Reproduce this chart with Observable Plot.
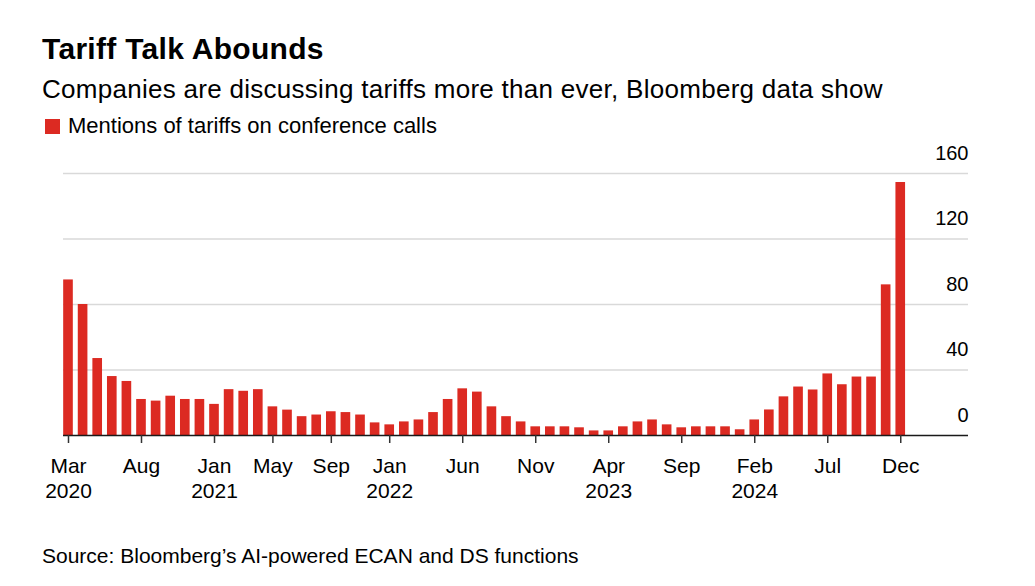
<!DOCTYPE html>
<html>
<head>
<meta charset="utf-8">
<script src="https://cdn.jsdelivr.net/npm/d3@7"></script>
<script src="https://cdn.jsdelivr.net/npm/@observablehq/plot@0.6"></script>
<style>
  html, body { margin: 0; padding: 0; background: #fff; }
  body { font-family: "Liberation Sans", Arial, Helvetica, sans-serif; color: #000; }
  #wrap { position: relative; width: 1035px; height: 586px; overflow: hidden; }
  .t { position: absolute; left: 42px; white-space: nowrap; line-height: 1; }
  #title { top: 34px; font-size: 30px; font-weight: bold; letter-spacing: 0.3px; }
  #subtitle { top: 76px; font-size: 26px; letter-spacing: 0.28px; }
  #legend { top: 115px; font-size: 22px; left: 45px; display: flex; align-items: center; }
  #legend .sw { width: 15px; height: 15px; background: #dc2a22; margin-right: 8px; }
  #source { top: 545px; font-size: 21px; }
  #chart { position: absolute; left: 0; top: 140px; }
</style>
</head>
<body>
<div id="wrap">
  <div class="t" id="title">Tariff Talk Abounds</div>
  <div class="t" id="subtitle">Companies are discussing tariffs more than ever, Bloomberg data show</div>
  <div class="t" id="legend"><span class="sw"></span><span>Mentions of tariffs on conference calls</span></div>
  <div id="chart"></div>
  <div class="t" id="source">Source: Bloomberg’s AI-powered ECAN and DS functions</div>
</div>
<script>
// Months from Mar 2020 to Dec 2024
const months = [
  "2020-03","2020-04","2020-05","2020-06","2020-07","2020-08","2020-09","2020-10","2020-11","2020-12",
  "2021-01","2021-02","2021-03","2021-04","2021-05","2021-06","2021-07","2021-08","2021-09","2021-10","2021-11","2021-12",
  "2022-01","2022-02","2022-03","2022-04","2022-05","2022-06","2022-07","2022-08","2022-09","2022-10","2022-11","2022-12",
  "2023-01","2023-02","2023-03","2023-04","2023-05","2023-06","2023-07","2023-08","2023-09","2023-10","2023-11","2023-12",
  "2024-01","2024-02","2024-03","2024-04","2024-05","2024-06","2024-07","2024-08","2024-09","2024-10","2024-11","2024-12"
];
// Mentions of tariffs on conference calls
const mentions = [
  95, 80, 47, 36, 33, 22, 21, 24, 22, 22,
  19, 28, 27, 28, 17.5, 15.5, 11.5, 12.5, 14.5, 14, 12.5, 7.7,
  6.5, 8.3, 9.5, 14, 22, 28.5, 26.5, 17.5, 11.5, 8.3, 5.3, 5.3,
  5.3, 4.7, 2.8, 2.8, 5.3, 8.3, 9.5, 6.5, 4.7, 5.3, 5.3, 5.3,
  3.5, 9.5, 15.6, 23.6, 29.6, 27.8, 37.6, 31, 35.7, 35.7, 92, 154.5
];
// Labelled x ticks
const tickMonths = ["2020-03","2020-08","2021-01","2021-05","2021-09","2022-01","2022-06","2022-11","2023-04","2023-09","2024-02","2024-07","2024-12"];
const tickLabels = ["Mar\n2020","Aug","Jan\n2021","May","Sep","Jan\n2022","Jun","Nov","Apr\n2023","Sep","Feb\n2024","Jul","Dec"];
const yTicks = [0, 40, 80, 120, 160];

const red = "#dc2a22";
const data = months.map((m, i) => ({month: m, i, value: mentions[i]}));
const tickIdx = tickMonths.map(m => months.indexOf(m));
const labelOf = new Map(tickIdx.map((t, k) => [t, tickLabels[k]]));

const chart = Plot.plot({
  width: 1035,
  height: 375,
  marginLeft: 63,
  marginRight: 67,
  marginTop: 33,
  marginBottom: 80,
  style: {fontFamily: '"Liberation Sans", Arial, sans-serif', fontSize: "20px", color: "#000", background: "#fff"},
  x: {domain: [-0.342, 61.64], axis: null},
  y: {domain: [0, 160], axis: null},
  marks: [
    Plot.gridY(yTicks.filter(d => d > 0), {stroke: "#d9d9d9", strokeOpacity: 1, strokeWidth: 1.5}),
    Plot.rectY(data, {x1: d => d.i - 0.33, x2: d => d.i + 0.33, y: "value", fill: red}),
    Plot.ruleY([0], {stroke: "#1a1a1a", strokeWidth: 1.5}),
    Plot.axisX(tickIdx, {
      tickFormat: d => labelOf.get(d),
      tickSize: 8,
      tickPadding: 11,
      stroke: "#333",
      strokeWidth: 1.5,
      fontSize: 21,
      lineHeight: 1.22,
      fill: "#000"
    }),
    Plot.text(yTicks, {
      y: d => d,
      text: d => String(d),
      frameAnchor: "right",
      textAnchor: "end",
      dy: -20,
      fontSize: 20,
      fill: "#000"
    })
  ]
});
document.getElementById("chart").appendChild(chart);
</script>
</body>
</html>
